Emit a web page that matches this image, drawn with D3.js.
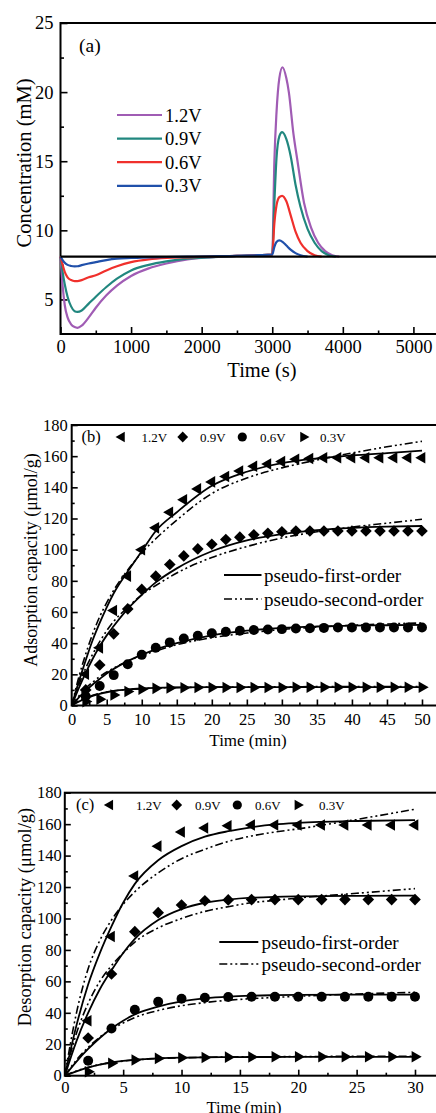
<!DOCTYPE html>
<html>
<head>
<meta charset="utf-8">
<script src="https://cdn.jsdelivr.net/npm/d3@7"></script>
<style>
  body { margin: 0; background: #fff; }
  text { font-family: "Liberation Serif", "Times New Roman", serif; }
</style>
</head>
<body>
<script>
const width = 436, height = 1113;
const serif = '"Liberation Serif", "Times New Roman", serif';

// ---- panel (a): concentration vs time (s), [t, mM] pairs
const voltages = ["1.2V", "0.9V", "0.6V", "0.3V"];
const lineColors = ["#a05cb4", "#21877f", "#f0302c", "#2050aa"];
const baseline = 8.1;

const conc12 = [[0, 8.1], [30, 6.0], [60, 4.6], [100, 3.7], [150, 3.2], [200, 3.0], [240, 2.95], [300, 3.1],
  [400, 3.7], [500, 4.4], [650, 5.3], [800, 6.0], [1000, 6.7], [1250, 7.25], [1500, 7.6], [1800, 7.9],
  [2100, 8.05], [2500, 8.15], [2800, 8.2], [3000, 8.25], [3030, 15], [3060, 18.5], [3100, 21], [3145, 21.8],
  [3200, 21], [3235, 20], [3300, 17], [3358, 15], [3450, 12], [3550, 10.2], [3650, 9.1], [3750, 8.5],
  [3850, 8.2], [3950, 8.1]];
const conc09 = [[0, 8.1], [30, 7.0], [60, 6.1], [100, 5.2], [150, 4.5], [200, 4.15], [240, 4.1], [300, 4.2],
  [400, 4.7], [500, 5.2], [650, 5.9], [800, 6.5], [1000, 7.1], [1250, 7.5], [1500, 7.75], [1800, 7.95],
  [2100, 8.05], [2500, 8.15], [2800, 8.2], [3000, 8.25], [3030, 12], [3060, 15.2], [3100, 16.8], [3140, 17.1],
  [3200, 16.6], [3260, 15.4], [3330, 13.3], [3400, 11.7], [3500, 10.1], [3600, 9.1], [3700, 8.5],
  [3800, 8.2], [3900, 8.1]];
const conc06 = [[0, 8.1], [30, 7.5], [60, 7.0], [100, 6.6], [150, 6.4], [200, 6.33], [240, 6.33], [300, 6.4],
  [400, 6.6], [500, 6.75], [650, 7.1], [800, 7.4], [1000, 7.7], [1250, 7.9], [1500, 8.0], [1800, 8.05],
  [2100, 8.1], [2500, 8.15], [2800, 8.2], [3000, 8.25], [3030, 10.5], [3060, 11.8], [3100, 12.4], [3140, 12.5],
  [3200, 12.1], [3260, 11.1], [3330, 9.9], [3400, 9.1], [3500, 8.5], [3600, 8.2], [3700, 8.1]];
const conc03 = [[0, 8.1], [30, 7.85], [60, 7.65], [100, 7.5], [150, 7.42], [200, 7.39], [240, 7.4], [300, 7.48],
  [400, 7.6], [500, 7.7], [650, 7.85], [800, 7.95], [1000, 8.0], [1250, 8.05], [1500, 8.07], [1800, 8.1],
  [2100, 8.12], [2500, 8.15], [2800, 8.2], [3000, 8.25], [3030, 8.8], [3060, 9.15], [3100, 9.27], [3150, 9.15],
  [3200, 8.9], [3260, 8.6], [3330, 8.35], [3400, 8.2], [3500, 8.1]];

// ---- panel (b): adsorption capacity (umol/g) vs time (min)
const bTimes = d3.range(0, 51, 2);
const b12 = [0, 20, 37, 61, 83, 100, 114, 124, 132, 139, 143.5, 147, 150.5, 153.5, 155, 156.5, 158, 158.5, 159, 159, 159, 159, 159, 159, 159, 159];
const b09 = [0, 10, 26, 46, 62, 74.5, 83, 90.5, 96, 100.5, 103.5, 106.5, 108, 109.5, 110.5, 111.5, 112, 112, 112, 112, 112, 112, 112, 112, 112, 112];
const b06 = [0, 6, 12.5, 19.5, 26.5, 32.5, 37, 40.5, 43, 44.7, 46.3, 47.3, 48, 48.4, 48.8, 49, 49.4, 49.6, 49.8, 50, 50, 50, 50, 50, 50, 50];
const b03 = [0, 2.5, 4, 6.7, 9, 10.4, 11, 11.3, 11.4, 11.5, 11.5, 11.6, 11.6, 11.6, 11.6, 11.6, 11.7, 11.7, 11.7, 11.7, 11.7, 11.7, 11.7, 11.7, 11.7, 11.7];

const bFitTimes = [0, 1, 2, 3, 4, 5, 6, 8, 10, 12, 15, 20, 25, 30, 35, 40, 45, 50];
const b12First = [0, 15, 29, 42, 53, 63, 72, 86, 99, 112, 124, 141, 150, 155.5, 158.5, 160.5, 162, 163.5];
const b12Second = [0, 18, 33, 46, 57, 66, 74, 87, 98, 107, 119, 136, 146, 152.5, 157.5, 162, 166, 169.5];
const b09First = [0, 11, 21, 30, 38, 45, 51, 62, 71, 79, 88, 99, 106, 110, 112.5, 114, 114.8, 115.2];
const b09Second = [0, 13, 24, 33, 41, 48, 54, 63, 71, 77, 85, 95, 102, 107.5, 111.5, 114.5, 117, 119.5];
const b06First = [0, 5, 9.5, 13.5, 17, 20.5, 23.5, 28.5, 32.5, 36, 40, 45, 48, 49.8, 50.7, 51.2, 51.5, 51.7];
const b06Second = [0, 6, 11, 15, 18.5, 21.5, 24, 28.5, 32, 35, 39, 43.5, 46.5, 48.8, 50.3, 51.5, 52.3, 53];
const b03First = [0, 2.5, 4.5, 6.2, 7.5, 8.5, 9.3, 10.3, 10.9, 11.3, 11.6, 11.8, 11.8, 11.8, 11.8, 11.8, 11.8, 11.8];
const b03Second = [0, 3, 5, 6.6, 7.8, 8.7, 9.4, 10.3, 10.8, 11.2, 11.5, 11.8, 11.9, 12, 12.1, 12.1, 12.2, 12.2];

// ---- panel (c): desorption capacity (umol/g) vs time (min)
const cTimes = d3.range(0, 31, 2);
const c12 = [0, 35, 88.5, 127, 146, 155, 157.5, 159, 159.5, 159.5, 159.5, 159.5, 159.5, 159.5, 159.5, 159.5];
const c09 = [0, 24, 64.7, 91.6, 103.7, 108.6, 111.3, 111.8, 112, 112, 112, 112, 112, 112, 112, 112];
const c06 = [0, 9.5, 30, 42, 47, 49, 49.6, 50, 50.2, 50.2, 50.2, 50.2, 50.2, 50.2, 50.2, 50.2];
const c03 = [0, 2.5, 7.9, 10, 11, 11.4, 11.6, 11.8, 11.9, 12, 12, 12, 12, 12, 12, 12];

const cFitTimes = [0, 1, 2, 3, 4, 5, 6, 8, 10, 12, 14, 16, 18, 20, 25, 30];
const c12First = [0, 32, 58, 78, 95, 110, 122, 137, 146, 152, 155.5, 158, 159.8, 160.8, 162, 162.5];
const c12Second = [0, 40, 68, 86, 99, 109, 117, 129, 138, 144, 149, 152.5, 155, 157, 163, 169.5];
const c09First = [0, 22, 40, 55, 67, 78, 87, 99, 106, 110, 112, 113.2, 113.8, 114.1, 114.4, 114.5];
const c09Second = [0, 27, 46, 60, 70, 78, 85, 94, 100, 104.5, 107.5, 110, 111.5, 113, 116, 119];
const c06First = [0, 9, 17, 24, 30, 35, 39, 44, 47.3, 49.2, 50.3, 50.9, 51.2, 51.4, 51.6, 51.6];
const c06Second = [0, 10, 18, 24.5, 29.5, 33.5, 37, 41.5, 44.5, 46.5, 48, 49, 49.8, 50.5, 52, 53];
const c03First = [0, 2.8, 5.2, 7, 8.4, 9.4, 10.1, 11, 11.5, 11.7, 11.8, 11.9, 11.9, 12, 12, 12];
const c03Second = [0, 3, 5.4, 7.1, 8.4, 9.3, 10, 10.9, 11.4, 11.7, 11.9, 12, 12.1, 12.2, 12.3, 12.4];

const fitNames = ["pseudo-first-order", "pseudo-second-order"];
const dashPSO = "8,3,2,3,2,3";

const svg = d3.select("body").append("svg")
    .attr("width", width)
    .attr("height", height)
    .style("display", "block");

svg.append("rect").attr("width", width).attr("height", height).attr("fill", "#fff");

// frame + inward ticks for one panel
function drawAxes(p) {
    const g = svg.append("g");
    const [x0, x1] = p.x.range();
    const [y0, y1] = p.y.range();

    g.append("g").attr("transform", `translate(0,${y0})`)
        .call(d3.axisBottom(p.x).tickValues(p.xMajor).tickSize(-p.tick).tickPadding(p.xPad).tickFormat(d3.format("d")));
    g.append("g").attr("transform", `translate(0,${y0})`)
        .call(d3.axisBottom(p.x).tickValues(p.xMinor).tickSize(-p.tick / 2).tickFormat(""));
    g.append("g").attr("transform", `translate(${x0},0)`)
        .call(d3.axisLeft(p.y).tickValues(p.yMajor).tickSize(-p.tick).tickPadding(p.yPad).tickFormat(d3.format("d")));
    g.append("g").attr("transform", `translate(${x0},0)`)
        .call(d3.axisLeft(p.y).tickValues(p.yMinor).tickSize(-p.tick / 2).tickFormat(""));

    g.selectAll(".domain").remove();
    g.selectAll(".tick line").attr("stroke", "#000").attr("stroke-width", 1.6);
    g.selectAll("g > g").attr("font-family", serif).attr("font-size", p.fontSize);
    g.selectAll(".tick text").attr("fill", "#000");

    g.append("rect")
        .attr("x", x0).attr("y", y1)
        .attr("width", x1 - x0 + 4).attr("height", y0 - y1)
        .attr("fill", "none").attr("stroke", "#000").attr("stroke-width", 2);

    g.append("text")
        .attr("x", p.xTitle[0]).attr("y", p.xTitle[1])
        .attr("text-anchor", "middle").attr("font-size", p.titleSize)
        .text(p.xLabel);
    g.append("text")
        .attr("transform", `translate(${p.yTitle[0]},${p.yTitle[1]}) rotate(-90)`)
        .attr("text-anchor", "middle").attr("font-size", p.yTitleSize || p.titleSize)
        .text(p.yLabel);
}

// ---------------- panel (a)
const xa = d3.scaleLinear().domain([0, 5320]).range([60.5, 436]);
const ya = d3.scaleLinear().domain([2.5, 25]).range([334, 23]);

drawAxes({
    x: xa, y: ya, tick: 7,
    xMajor: d3.range(0, 5001, 1000), xMinor: d3.range(500, 5320, 1000),
    yMajor: [5, 10, 15, 20, 25], yMinor: [7.5, 12.5, 17.5, 22.5],
    xPad: 6, yPad: 7, fontSize: 18.5, titleSize: 20.5,
    xLabel: "Time (s)", xTitle: [262, 377],
    yLabel: "Concentration (mM)", yTitle: [31, 163]
});

const lineA = d3.line().x(d => xa(d[0])).y(d => ya(d[1])).curve(d3.curveMonotoneX);
const concSeries = [conc12, conc09, conc06, conc03];
concSeries.forEach((s, i) => {
    svg.append("path").datum(s)
        .attr("d", lineA)
        .attr("fill", "none")
        .attr("stroke", lineColors[i])
        .attr("stroke-width", 2.2);
});
svg.append("line")
    .attr("x1", xa.range()[0]).attr("x2", width)
    .attr("y1", ya(baseline)).attr("y2", ya(baseline))
    .attr("stroke", "#000").attr("stroke-width", 2.2);

svg.append("text").attr("x", 79).attr("y", 52).attr("font-size", 19.5).text("(a)");

voltages.forEach((v, i) => {
    const yy = 115 + i * 23.6;
    svg.append("line").attr("x1", 117).attr("x2", 162).attr("y1", yy).attr("y2", yy)
        .attr("stroke", lineColors[i]).attr("stroke-width", 2.2);
    svg.append("text").attr("x", 165).attr("y", yy + 6.5).attr("font-size", 18.5).text(v);
});

// ---------------- symbol helpers
const symbolDefs = [
    { type: d3.symbolTriangle, rot: -90, size: 58 },
    { type: d3.symbolSquare, rot: 45, size: 68 },
    { type: d3.symbolCircle, rot: 0, size: 78 },
    { type: d3.symbolTriangle, rot: 90, size: 58 }
];
function marker(g, k, cx, cy, scale = 1) {
    const s = symbolDefs[k];
    g.append("path")
        .attr("d", d3.symbol().type(s.type).size(s.size * scale)())
        .attr("transform", `translate(${cx},${cy}) rotate(${s.rot})`)
        .attr("fill", "#000");
}

function kineticPanel(p) {
    drawAxes(p);
    const g = svg.append("g");
    const line = d3.line().x(d => p.x(d[0])).y(d => p.y(d[1])).curve(d3.curveMonotoneX);

    p.fits.forEach(f => {
        g.append("path").datum(p.fitTimes.map((t, j) => [t, f.first[j]]))
            .attr("d", line).attr("fill", "none").attr("stroke", "#000").attr("stroke-width", 1.8);
        g.append("path").datum(p.fitTimes.map((t, j) => [t, f.second[j]]))
            .attr("d", line).attr("fill", "none").attr("stroke", "#000").attr("stroke-width", 1.6)
            .attr("stroke-dasharray", dashPSO);
    });

    p.points.forEach((vals, k) => {
        p.times.forEach((t, j) => {
            if (t === 0) return;
            marker(g, k, p.x(t), p.y(vals[j]));
        });
    });

    // top legend row
    g.append("text").attr("x", p.tag[0]).attr("y", p.tag[1]).attr("font-size", 16.5).text(p.tagText);
    p.symLegend.forEach((pos, k) => {
        marker(g, k, pos[0], p.tag[1] - 5, 0.85);
        g.append("text").attr("x", pos[1]).attr("y", p.tag[1] - 0.5)
            .attr("font-size", 13).text(voltages[k]);
    });

    // fit legend
    fitNames.forEach((name, i) => {
        const yy = p.fitLegend[1] + i * p.fitLegend[4];
        g.append("line").attr("x1", p.fitLegend[0]).attr("x2", p.fitLegend[2])
            .attr("y1", yy).attr("y2", yy).attr("stroke", "#000")
            .attr("stroke-width", i ? 1.6 : 1.8)
            .attr("stroke-dasharray", i ? dashPSO : null);
        g.append("text").attr("x", p.fitLegend[3]).attr("y", yy + 6.5)
            .attr("font-size", 19).text(name);
    });
}

// ---------------- panel (b)
kineticPanel({
    x: d3.scaleLinear().domain([0, 52]).range([71.7, 436]),
    y: d3.scaleLinear().domain([0, 180]).range([705.5, 425]),
    tick: 6,
    xMajor: d3.range(0, 51, 5), xMinor: d3.range(2.5, 52, 5),
    yMajor: d3.range(0, 181, 20), yMinor: d3.range(10, 180, 20),
    xPad: 8, yPad: 4, fontSize: 16.5, titleSize: 17, yTitleSize: 18,
    xLabel: "Time (min)", xTitle: [248, 746],
    yLabel: "Adsorption capacity (\u03bcmol/g)", yTitle: [37, 560],
    times: bTimes, points: [b12, b09, b06, b03],
    fitTimes: bFitTimes,
    fits: [
        { first: b12First, second: b12Second },
        { first: b09First, second: b09Second },
        { first: b06First, second: b06Second },
        { first: b03First, second: b03Second }
    ],
    tag: [81.5, 442], tagText: "(b)",
    symLegend: [[121.7, 141.5], [182.7, 200], [242.3, 260], [303.3, 320]],
    fitLegend: [224, 575, 261.5, 264, 24]
});

// ---------------- panel (c)
kineticPanel({
    x: d3.scaleLinear().domain([0, 31.8]).range([64.8, 436]),
    y: d3.scaleLinear().domain([0, 180]).range([1075.7, 792.7]),
    tick: 6,
    xMajor: d3.range(0, 31, 5), xMinor: d3.range(2.5, 31.8, 5),
    yMajor: d3.range(0, 181, 20), yMinor: d3.range(10, 180, 20),
    xPad: 6, yPad: 3, fontSize: 16.5, titleSize: 16.5, yTitleSize: 18.5,
    xLabel: "Time (min)", xTitle: [244, 1112.5],
    yLabel: "Desorption capacity (\u03bcmol/g)", yTitle: [31, 917],
    times: cTimes, points: [c12, c09, c06, c03],
    fitTimes: cFitTimes,
    fits: [
        { first: c12First, second: c12Second },
        { first: c09First, second: c09Second },
        { first: c06First, second: c06Second },
        { first: c03First, second: c03Second }
    ],
    tag: [76, 810], tagText: "(c)",
    symLegend: [[110, 136], [176.7, 195], [237.3, 255], [297.7, 319]],
    fitLegend: [219.3, 942, 258.3, 261.5, 22]
});
</script>
</body>
</html>
